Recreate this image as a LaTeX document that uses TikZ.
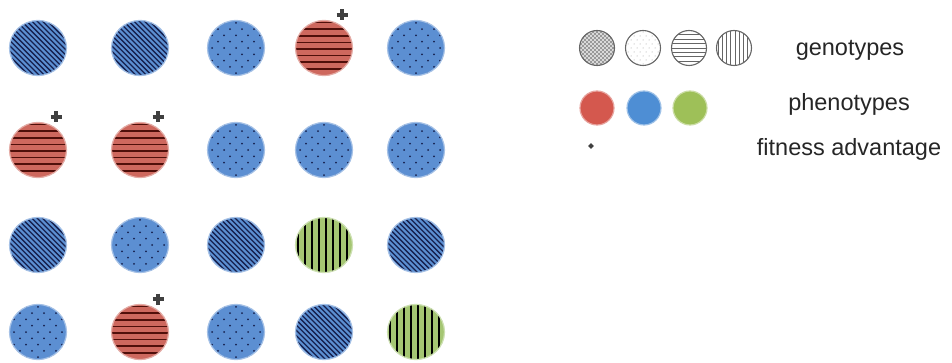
\documentclass[tikz,border=0pt]{standalone}
\usepackage{fontspec}
\setmainfont{Liberation Sans}
\usetikzlibrary{shapes.geometric,calc}
\definecolor{cblue}{RGB}{92,143,210}
\definecolor{cnavy}{RGB}{22,32,78}
\definecolor{cred}{RGB}{206,104,94}
\definecolor{cdred}{RGB}{80,15,10}
\definecolor{cgreen}{RGB}{165,198,115}
\definecolor{lred}{RGB}{212,88,78}
\definecolor{lblue}{RGB}{78,142,212}
\definecolor{lgreen}{RGB}{158,192,88}
\begin{document}
\begin{tikzpicture}[x=1pt,y=-1pt,
 cell/.style={ellipse, inner sep=0pt, minimum width=57pt, minimum height=55pt, line width=1.2pt},
 diagcell/.style={cell, fill=cblue, draw=cblue!55!white,
   path picture={\begin{scope}[shift={(path picture bounding box.center)}]
     \foreach \k in {-16,...,16}{\draw[cnavy, line width=1.3pt] ({\k*5.2-40},-40) -- ++(80,80);}
   \end{scope}}},
 dotcell/.style={cell, fill=cblue, draw=cblue!55!white,
   path picture={\begin{scope}[shift={(path picture bounding box.center)}]
     \foreach \j in {-5,...,5}{\foreach \i in {-3,...,3}{\fill[cnavy] ({\i*12+mod(\j+10,2)*6},{\j*6.3}) circle (1.0);}}
   \end{scope}}},
 hcell/.style={cell, fill=cred, draw=cred!55!white,
   path picture={\begin{scope}[shift={(path picture bounding box.center)}]
     \foreach \j in {-4,...,4}{\draw[cdred, line width=1.5pt] (-35,{\j*6.6+1}) -- (35,{\j*6.6+1});}
   \end{scope}}},
 vcell/.style={cell, fill=cgreen, draw=cgreen!55!white,
   path picture={\begin{scope}[shift={(path picture bounding box.center)}]
     \foreach \i in {-5,...,5}{\draw[black, line width=1.6pt] ({\i*7+2},-35) -- ({\i*7+2},35);}
   \end{scope}}},
 plusmark/.style={line width=4pt, draw=black!75},
 gcell/.style={circle, inner sep=0pt, minimum size=35pt, draw=black!60, line width=1.1pt, fill=white},
 pcell/.style={circle, inner sep=0pt, minimum size=34pt, line width=1.2pt},
 lab/.style={font=\fontsize{23.5}{28}\selectfont, text=black!85, inner sep=0pt}
]
\useasboundingbox (0,0) rectangle (952,363);
% grid
\node[diagcell] (c11) at (38,48) {};
\node[diagcell] (c12) at (140,48) {};
\node[dotcell]  (c13) at (236,48) {};
\node[hcell]    (c14) at (324,48) {};
\node[dotcell]  (c15) at (416,48) {};
\node[hcell]    (c21) at (38,150) {};
\node[hcell]    (c22) at (140,150) {};
\node[dotcell]  (c23) at (236,150) {};
\node[dotcell]  (c24) at (324,150) {};
\node[dotcell]  (c25) at (416,150) {};
\node[diagcell] (c31) at (38,245) {};
\node[dotcell]  (c32) at (140,245) {};
\node[diagcell] (c33) at (236,245) {};
\node[vcell]    (c34) at (324,245) {};
\node[diagcell] (c35) at (416,245) {};
\node[dotcell]  (c41) at (38,332) {};
\node[hcell]    (c42) at (140,332) {};
\node[dotcell]  (c43) at (236,332) {};
\node[diagcell] (c44) at (324,332) {};
\node[vcell]    (c45) at (416,332) {};
% plus marks
\foreach \p/\x/\y in {p14/342/15, p21/56/117, p22/158/117, p42/158/299}{
  \coordinate (\p) at (\x,\y);
  \draw[plusmark] ($(\p)+(-5.5,0)$) -- ($(\p)+(5.5,0)$);
  \draw[plusmark] ($(\p)+(0,-5.5)$) -- ($(\p)+(0,5.5)$);
}
% legend genotypes
\node[gcell, fill=black!12,
  path picture={\begin{scope}[shift={(path picture bounding box.center)}]
    \foreach \k in {-10,...,10}{\draw[black!45, line width=0.5pt] ({\k*4-20},-20) -- ++(40,40);
                                 \draw[black!45, line width=0.5pt] ({\k*4+20},-20) -- ++(-40,40);}
  \end{scope}}] (g1) at (597,48) {};
\node[gcell,
  path picture={\begin{scope}[shift={(path picture bounding box.center)}]
    \foreach \j in {-4,...,4}{\foreach \i in {-3,...,3}{\fill[black!40] ({\i*6+mod(\j+10,2)*3},{\j*4}) circle (0.5);}}
  \end{scope}}] (g2) at (643,48) {};
\node[gcell,
  path picture={\begin{scope}[shift={(path picture bounding box.center)}]
    \foreach \j in {-4,...,4}{\draw[black!60, line width=0.8pt] (-20,{\j*4.4}) -- (20,{\j*4.4});}
  \end{scope}}] (g3) at (689,48) {};
\node[gcell,
  path picture={\begin{scope}[shift={(path picture bounding box.center)}]
    \foreach \i in {-4,...,4}{\draw[black!60, line width=0.8pt] ({\i*4.2+1},-20) -- ({\i*4.2+1},20);}
  \end{scope}}] (g4) at (734,48) {};
% legend phenotypes
\node[pcell, fill=lred, draw=lred!55!white] (f1) at (597,108) {};
\node[pcell, fill=lblue, draw=lblue!55!white] (f2) at (644,108) {};
\node[pcell, fill=lgreen, draw=lgreen!55!white] (f3) at (690,108) {};
% legend fitness
\node[diamond, fill=black!75, inner sep=0pt, minimum size=6pt] (fd) at (591,146) {};
% labels
\node[lab] (tg) at (850,50) {genotypes};
\node[lab] (tp) at (849,104) {phenotypes};
\node[lab] (tf) at (849,149) {fitness advantage};
\end{tikzpicture}
\end{document}
